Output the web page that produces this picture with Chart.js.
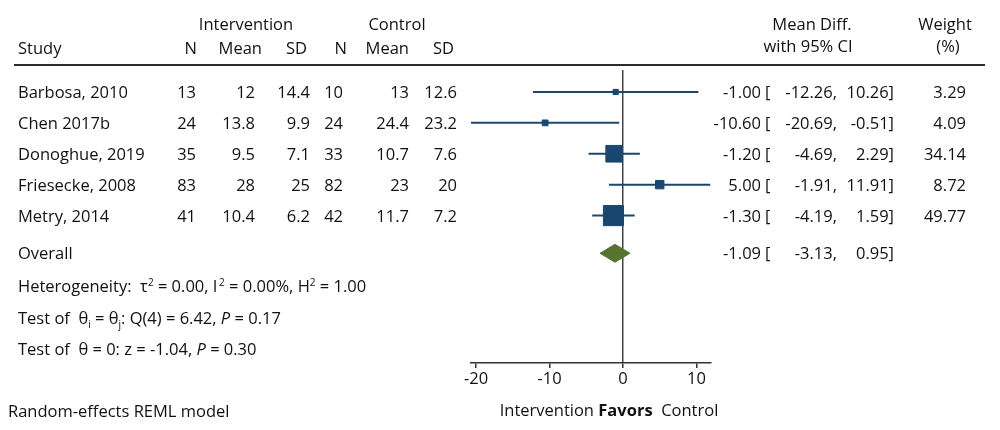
<!DOCTYPE html>
<html>
<head>
<meta charset="utf-8">
<script src="https://cdn.jsdelivr.net/npm/chart.js@4.4.1/dist/chart.umd.min.js"></script>
<style>
  body { margin: 0; background: #fff; }
  #wrap { position: relative; width: 1000px; height: 430px; font-family: "Open Sans", sans-serif; font-size: 16.5px; color: #111; }
  #plot { position: absolute; left: 0; top: 0; }
  .t { position: absolute; line-height: 20px; white-space: nowrap; }
  .rule { position: absolute; left: 14px; width: 971px; top: 64px; height: 2px; background: #2b2b2b; }
  sup, sub { font-size: 10px; line-height: 0; }
</style>
</head>
<body>
<div id="wrap">
  <canvas id="plot" width="1000" height="430"></canvas>
  <div class="rule"></div>
</div>
<script>
// study data
const studies = ["Barbosa, 2010", "Chen 2017b", "Donoghue, 2019", "Friesecke, 2008", "Metry, 2014"];
const intN = [13, 24, 35, 83, 41];
const intMean = [12, 13.8, 9.5, 28, 10.4];
const intSD = [14.4, 9.9, 7.1, 25, 6.2];
const ctlN = [10, 24, 33, 82, 42];
const ctlMean = [13, 24.4, 10.7, 23, 11.7];
const ctlSD = [12.6, 23.2, 7.6, 20, 7.2];
const meanDiff = [-1.00, -10.60, -1.20, 5.00, -1.30];
const ciLow = [-12.26, -20.69, -4.69, -1.91, -4.19];
const ciHigh = [10.26, -0.51, 2.29, 11.91, 1.59];
const weights = [3.29, 4.09, 34.14, 8.72, 49.77];
const overall = [-1.09, -3.13, 0.95]; // diff, low, high
const xTicks = [-20, -10, 0, 10];

const BLUE = "#1a476f";
const GREEN = "#55752f";
const FONT = "'Open Sans', sans-serif";
const overallRow = 6.22;

const datasets = [];
studies.forEach((s, i) => {
  datasets.push({
    type: "line",
    data: [{ x: ciLow[i], y: i + 1 }, { x: ciHigh[i], y: i + 1 }],
    borderColor: BLUE,
    borderWidth: 2,
    pointRadius: 0,
  });
});
datasets.push({
  type: "scatter",
  data: meanDiff.map((v, i) => ({ x: v, y: i + 1 })),
  pointStyle: "rect",
  pointRadius: weights.map((w) => (2.85 * Math.sqrt(w)) / 2 / Math.SQRT1_2),
  backgroundColor: BLUE,
  borderColor: BLUE,
  borderWidth: 1,
});
datasets.push({
  type: "scatter",
  showLine: true,
  data: [
    { x: overall[1], y: overallRow },
    { x: overall[0], y: overallRow - 0.29 },
    { x: overall[2], y: overallRow },
    { x: overall[0], y: overallRow + 0.29 },
    { x: overall[1], y: overallRow },
  ],
  fill: "shape",
  backgroundColor: GREEN,
  borderColor: GREEN,
  borderWidth: 1,
  pointRadius: 0,
});

const chart = new Chart(document.getElementById("plot"), {
  type: "scatter",
  data: { datasets: datasets },
  options: {
    responsive: false,
    animation: false,
    layout: { padding: { left: 471, right: 289.5, top: 70, bottom: 37 } },
    plugins: { legend: { display: false }, tooltip: { enabled: false } },
    scales: {
      x: {
        type: "linear",
        min: ciLow[1],
        max: ciHigh[3],
        afterBuildTicks: (scale) => { scale.ticks = xTicks.map((v) => ({ value: v })); },
        afterFit: (scale) => { scale.height = 30; },
        grid: {
          drawOnChartArea: true,
          color: (c) => (c.tick && c.tick.value === 0 ? "#444" : "rgba(0,0,0,0)"),
          lineWidth: 1.5,
          tickLength: 5,
          tickColor: "#333",
        },
        border: { color: "#333", width: 1.5 },
        ticks: { color: "#111", font: { family: FONT, size: 16.5 }, padding: 1, maxRotation: 0 },
      },
      y: { type: "linear", display: false, min: 0.29, max: 9.77, reverse: true },
    },
  },
});

// table text
const wrap = document.getElementById("wrap");
function put(html, x, y, align) {
  const d = document.createElement("div");
  d.className = "t";
  d.innerHTML = html;
  d.style.top = (y - 10) + "px";
  if (align === "right") d.style.right = (1000 - x) + "px";
  else if (align === "center") { d.style.left = (x - 150) + "px"; d.style.width = "300px"; d.style.textAlign = "center"; }
  else d.style.left = x + "px";
  wrap.appendChild(d);
}

put("Intervention", 246, 24, "center");
put("Control", 397, 24, "center");
put("Study", 18, 48);
put("N", 197, 48, "right");
put("Mean", 262, 48, "right");
put("SD", 307, 48, "right");
put("N", 347, 48, "right");
put("Mean", 409, 48, "right");
put("SD", 454, 48, "right");
put("Mean Diff.", 812, 24, "center");
put("with 95% CI", 808, 46, "center");
put("Weight", 945, 24, "center");
put("(%)", 948, 46, "center");

const ys = chart.scales.y;
studies.forEach((s, i) => {
  const y = ys.getPixelForValue(i + 1);
  put(s, 18, y);
  put(String(intN[i]), 196, y, "right");
  put(String(intMean[i]), 255, y, "right");
  put(String(intSD[i]), 310, y, "right");
  put(String(ctlN[i]), 343, y, "right");
  put(String(ctlMean[i]), 409, y, "right");
  put(String(ctlSD[i]), 457, y, "right");
  put(meanDiff[i].toFixed(2), 761, y, "right");
  put("[", 765, y);
  put(ciLow[i].toFixed(2) + ",", 837, y, "right");
  put(ciHigh[i].toFixed(2) + "]", 894, y, "right");
  put(weights[i].toFixed(2), 966, y, "right");
});
const oy = ys.getPixelForValue(overallRow);
put("Overall", 18, oy);
put(overall[0].toFixed(2), 761, oy, "right");
put("[", 765, oy);
put(overall[1].toFixed(2) + ",", 837, oy, "right");
put(overall[2].toFixed(2) + "]", 894, oy, "right");

put("Heterogeneity:&nbsp; &tau;<sup>2</sup> = 0.00, I<sup>&thinsp;2</sup> = 0.00%, H<sup>2</sup> = 1.00", 18, 286);
put("Test of&nbsp; &theta;<sub>i</sub> = &theta;<sub>j</sub>: Q(4) = 6.42, <i>P</i> = 0.17", 18, 318);
put("Test of&nbsp; &theta; = 0: z = -1.04, <i>P</i> = 0.30", 18, 349);
put("Random-effects REML model", 8, 411);
put("Intervention <b>Favors</b>&nbsp; Control", 609, 410, "center");
</script>
</body>
</html>
